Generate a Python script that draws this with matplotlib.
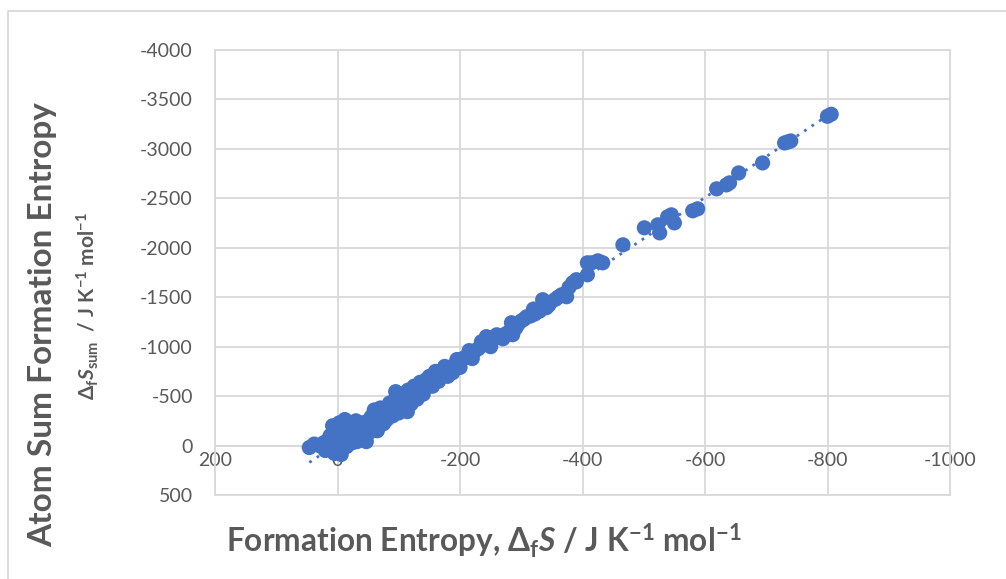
import numpy as np
import matplotlib
matplotlib.use("Agg")
import matplotlib.pyplot as plt
from matplotlib.lines import Line2D

plt.rcParams['font.family'] = ['Lato', 'DejaVu Sans']
plt.rcParams['mathtext.fontset'] = 'custom'
plt.rcParams['mathtext.rm'] = 'Lato:bold'
plt.rcParams['mathtext.it'] = 'Lato:italic:bold'
plt.rcParams['mathtext.bf'] = 'Lato:bold'
plt.rcParams['mathtext.fallback'] = 'stixsans'

# formation entropy (x) vs atom sum formation entropy (y)
dfS = [46, 38, 30, 22, 15, 10, 5, 0, -5, -8, 2, -10, -12, -5, -15, -18, -20, -22,
       -25, -28, -30, -32, -35, -38, -40, -42, -45, -47, -50, -52, -55, -58, -60,
       -62, -65, -68, -70, -72, -75, -78, -80, -82, -85, -88, -90, -92, -95, -96,
       -98, -100, -102, -105, -108, -110, -112, -114, -115, -118, -120, -122, -125,
       -128, -130, -132, -135, -138, -140, -143, -145, -148, -150, -153, -156, -160,
       -163, -167, -170, -173, -177, -180, -184, -188, -190, -194, -198, -202, -205,
       -210, -215, -220, -225, -230, -235, -240, -243, -248, -255, -262, -268, -275,
       -280, -284, -286, -292, -300, -309, -315, -322, -330, -335, -338, -341, -348,
       -356, -366, -374, -372, -378, -384, -390, -390, -408, -408, -415, -425, -428,
       -433, -466, -501, -523, -526, -539, -545, -550, -580, -588, -619, -635, -640,
       -655, -694, -730, -735, -740, -800, -806,
       20, 12, 8, -3, 0, -6, 3, -15, -25, -30, -35, -45, -50, -55, -60, -65, -70,
       -75, -80, -85, -90, -95, -100, -105, -110, -115, -120, -125, -130, -135, -140,
       -150, -155, -160, -165, -175, -180, -195, -200, -215, -220, -235, -250, -260,
       -270, -290, -295, -305, -320, -345, -360]
dfS_sum = [20, -15, 0, -30, -60, 40, 80, 60, -20, 30, -80, -110, -263, -150, -50, -120,
           -190, -60, -100, -220, -150, -40, -180, -110, -230, -160, -200, -40, -250,
           -180, -290, -230, -300, -210, -270, -330, -260, -300, -350, -290, -370, -320,
           -340, -390, -360, -410, -545, -380, -430, -400, -460, -420, -480, -450, -500,
           -343, -470, -520, -480, -540, -510, -560, -530, -580, -560, -600, -580, -620,
           -667, -610, -640, -670, -650, -690, -720, -700, -730, -760, -740, -770, -790,
           -737, -810, -830, -850, -860, -880, -900, -920, -930, -960, -980, -1010,
           -1030, -1101, -1060, -1080, -1100, -1110, -1130, -1150, -1242, -1121, -1200,
           -1260, -1303, -1310, -1330, -1360, -1475, -1440, -1394, -1450, -1480, -1525,
           -1505, -1530, -1600, -1646, -1677, -1656, -1727, -1848, -1848, -1868, -1858,
           -1848, -2030, -2202, -2232, -2151, -2313, -2333, -2252, -2374, -2394, -2596,
           -2636, -2656, -2757, -2858, -3060, -3070, -3080, -3330, -3350,
           50, -100, -200, -230, -40, 90, 20, 10, -30, -250, -60, -130, -120, -180,
           -360, -150, -380, -220, -260, -430, -300, -470, -330, -520, -380, -560,
           -420, -600, -470, -640, -520, -700, -600, -750, -650, -800, -700, -870,
           -790, -960, -880, -1050, -1000, -1120, -1080, -1180, -1230, -1280, -1380,
           -1420, -1500]

x_ticks = [200, 0, -200, -400, -600, -800, -1000]
y_ticks = [500, 0, -500, -1000, -1500, -2000, -2500, -3000, -3500, -4000]

blue = '#4472C4'
grey = '#595959'
gridc = '#D9D9D9'

fig = plt.figure(figsize=(10.06, 5.79), dpi=100)
ax = fig.add_axes([215/1006, 1-495/579, 735/1006, 445/579])

ax.scatter(dfS, dfS_sum, s=120, color=blue, edgecolors='none', zorder=3)

# linear trendline (dotted)
k, b = np.polyfit(dfS, dfS_sum, 1)
xt = np.array([max(dfS), min(dfS)])
ax.plot(xt, k*xt + b, linestyle=(0, (1, 2.2)), color=blue, lw=2, zorder=2)

ax.set_xlim(200, -1000)
ax.set_ylim(500, -4000)
ax.set_xticks(x_ticks)
ax.set_xticklabels([str(v) for v in x_ticks])
ax.set_yticks(y_ticks)
ax.set_yticklabels([str(v) for v in y_ticks])
ax.grid(True, color=gridc, lw=1.3, zorder=0)
ax.set_axisbelow(True)
for s in ax.spines.values():
    s.set_color(gridc)
    s.set_linewidth(1.3)
ax.spines['bottom'].set_position(('data', 0))
ax.axhline(500, color=gridc, lw=1.3, clip_on=False)
ax.tick_params(axis='both', length=0, labelsize=14, labelcolor=grey)
ax.tick_params(axis='x', pad=5)
ax.tick_params(axis='y', pad=16)

fig.text(484/1006, 1-541/579, r'Formation Entropy, $\Delta_{\mathrm{f}}S$ / J K$^{\mathrm{-1}}$ mol$^{\mathrm{-1}}$',
         ha='center', va='center', fontsize=22.8, fontweight='bold', color=grey)
fig.text(43/1006, 1-325/579, 'Atom Sum Formation Entropy', rotation=90,
         ha='center', va='center', fontsize=24, fontweight='bold', color=grey)
fig.text(88/1006, 1-306/579, r'$\Delta_{\mathrm{f}}S_{\mathrm{sum}}$  / J K$^{\mathrm{-1}}$ mol$^{\mathrm{-1}}$', rotation=90,
         ha='center', va='center', fontsize=15, fontweight='bold', color=grey)

# chart border (left and top edges visible)
fig.add_artist(Line2D([8/1006, 8/1006, 1], [0, 1-11/579, 1-11/579], color=gridc, lw=1.3))

fig.savefig('out.png', dpi=100)
